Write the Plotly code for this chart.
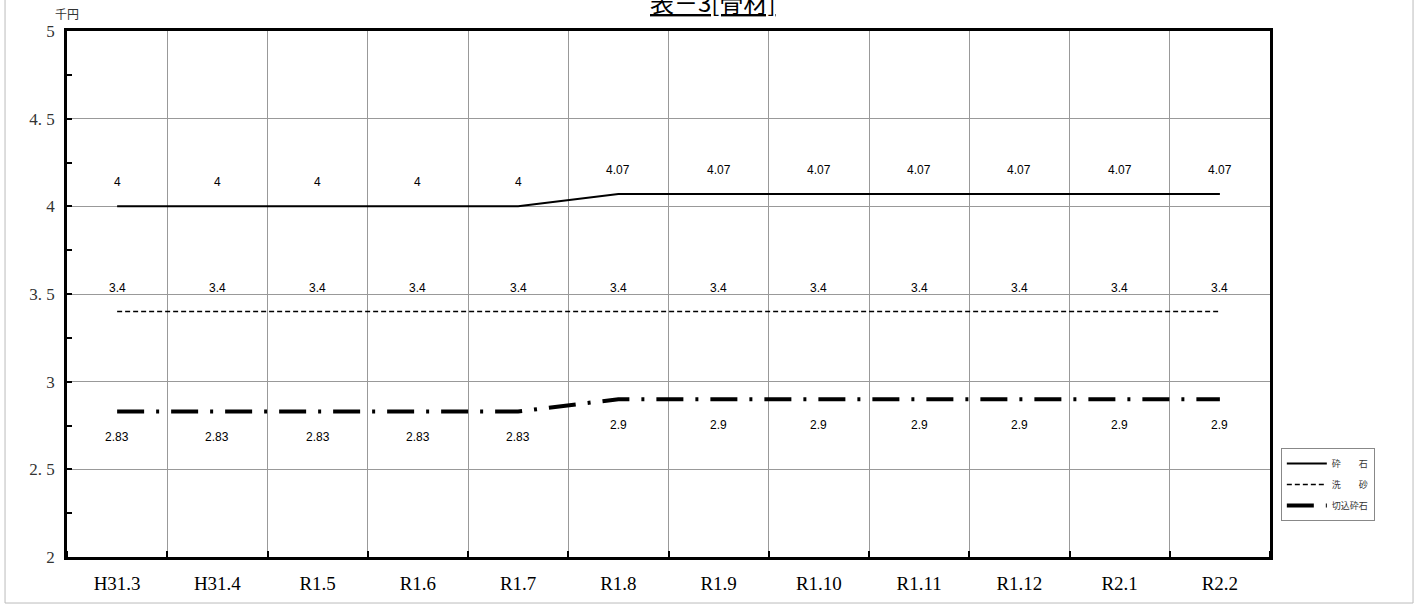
import plotly.graph_objects as go

categories = ["H31.3", "H31.4", "R1.5", "R1.6", "R1.7", "R1.8", "R1.9", "R1.10", "R1.11", "R1.12", "R2.1", "R2.2"]
saiseki = [4, 4, 4, 4, 4, 4.07, 4.07, 4.07, 4.07, 4.07, 4.07, 4.07]
arasuna = [3.4] * 12
kirikomi = [2.83, 2.83, 2.83, 2.83, 2.83, 2.9, 2.9, 2.9, 2.9, 2.9, 2.9, 2.9]
ytickvals = [2, 2.5, 3, 3.5, 4, 4.5, 5]
yticktext = ["2", "2. 5", "3", "3. 5", "4", "4. 5", "5"]

xs = list(range(len(categories)))

fig = go.Figure()
fig.add_trace(go.Scatter(x=xs, y=saiseki, mode="lines", name="砕　　石",
                         line=dict(color="black", width=2), legendgroup="a"))
fig.add_trace(go.Scatter(x=xs, y=arasuna, mode="lines", name="洗　　砂",
                         line=dict(color="black", width=1.5, dash="5px,3px"), legendgroup="b"))
fig.add_trace(go.Scatter(x=xs, y=kirikomi, mode="lines", name="切込砕石",
                         line=dict(color="black", width=4, dash="27px,12px,3px,12px"), legendgroup="c"))

lab_font = dict(family="Liberation Sans, Arial", size=12, color="black")
ann = []
for x, v in zip(xs, saiseki):
    ann.append(dict(x=x, y=v, text=f"{v:g}", showarrow=False, yshift=24, font=lab_font))
for x, v in zip(xs, arasuna):
    ann.append(dict(x=x, y=v, text=f"{v:g}", showarrow=False, yshift=24, font=lab_font))
for x, v in zip(xs, kirikomi):
    ann.append(dict(x=x, y=v, text=f"{v:g}", showarrow=False, yshift=-26, font=lab_font))

ann.append(dict(xref="paper", yref="paper", x=0, y=1, xanchor="center", yanchor="bottom",
                yshift=7, text="千円", showarrow=False,
                font=dict(family="Noto Sans CJK JP", size=12, color="#333")))
ann.append(dict(xref="paper", yref="paper", x=0.5374, y=1, xanchor="center", yanchor="bottom",
                yshift=10, text="<u>表－3[骨材]</u>", showarrow=False,
                font=dict(family="Noto Sans CJK JP", size=24, color="black")))

fig.update_layout(
    width=1423, height=607,
    margin=dict(l=67, r=153, t=31, b=50),
    paper_bgcolor="white", plot_bgcolor="white",
    annotations=ann,
    showlegend=True,
    legend=dict(x=1.009, y=0.207, xanchor="left", yanchor="top",
                bordercolor="#888", borderwidth=1, bgcolor="white",
                font=dict(family="Noto Sans CJK JP", size=9, color="#333"),
                tracegroupgap=2, itemwidth=40),
    shapes=[
        dict(type="line", xref="paper", yref="paper", x0=-0.0515, x1=-0.0515, y0=-0.0875, y1=1.1,
             line=dict(color="#bbb", width=1)),
        dict(type="line", xref="paper", yref="paper", x0=1.1189, x1=1.1189, y0=-0.0875, y1=1.1,
             line=dict(color="#bbb", width=1)),
        dict(type="line", xref="paper", yref="paper", x0=-0.0515, x1=1.1189, y0=-0.0875, y1=-0.0875,
             line=dict(color="#bbb", width=1)),
    ],
)

fig.update_xaxes(
    range=[-0.5, 11.5], tickmode="array", tickvals=xs, ticktext=categories,
    showgrid=False, ticks="", showline=True, linecolor="black", linewidth=2.5, mirror=True,
    tickfont=dict(family="Liberation Serif, Times New Roman", size=19, color="black"),
    ticklabelstandoff=7, zeroline=False,
    minor=dict(tick0=-0.5, dtick=1, showgrid=True, gridcolor="#999", gridwidth=1,
               ticks="inside", ticklen=6, tickcolor="black", tickwidth=2),
)
fig.update_yaxes(
    range=[2, 5], tickmode="array", tickvals=ytickvals, ticktext=yticktext,
    showgrid=True, gridcolor="#999", gridwidth=1,
    ticks="inside", ticklen=5, tickwidth=2, tickcolor="black",
    showline=True, linecolor="black", linewidth=2.5, mirror=True, zeroline=False,
    tickfont=dict(family="Liberation Serif, DejaVu Serif", size=17, color="#333"),
    ticklabelstandoff=6,
    minor=dict(tick0=2, dtick=0.25, ticks="inside", ticklen=5, tickwidth=2, tickcolor="black", showgrid=False),
)

fig.write_html("out.html", config={"displayModeBar": False},
               post_script="document.body.style.margin='0';document.body.style.overflow='hidden';")
